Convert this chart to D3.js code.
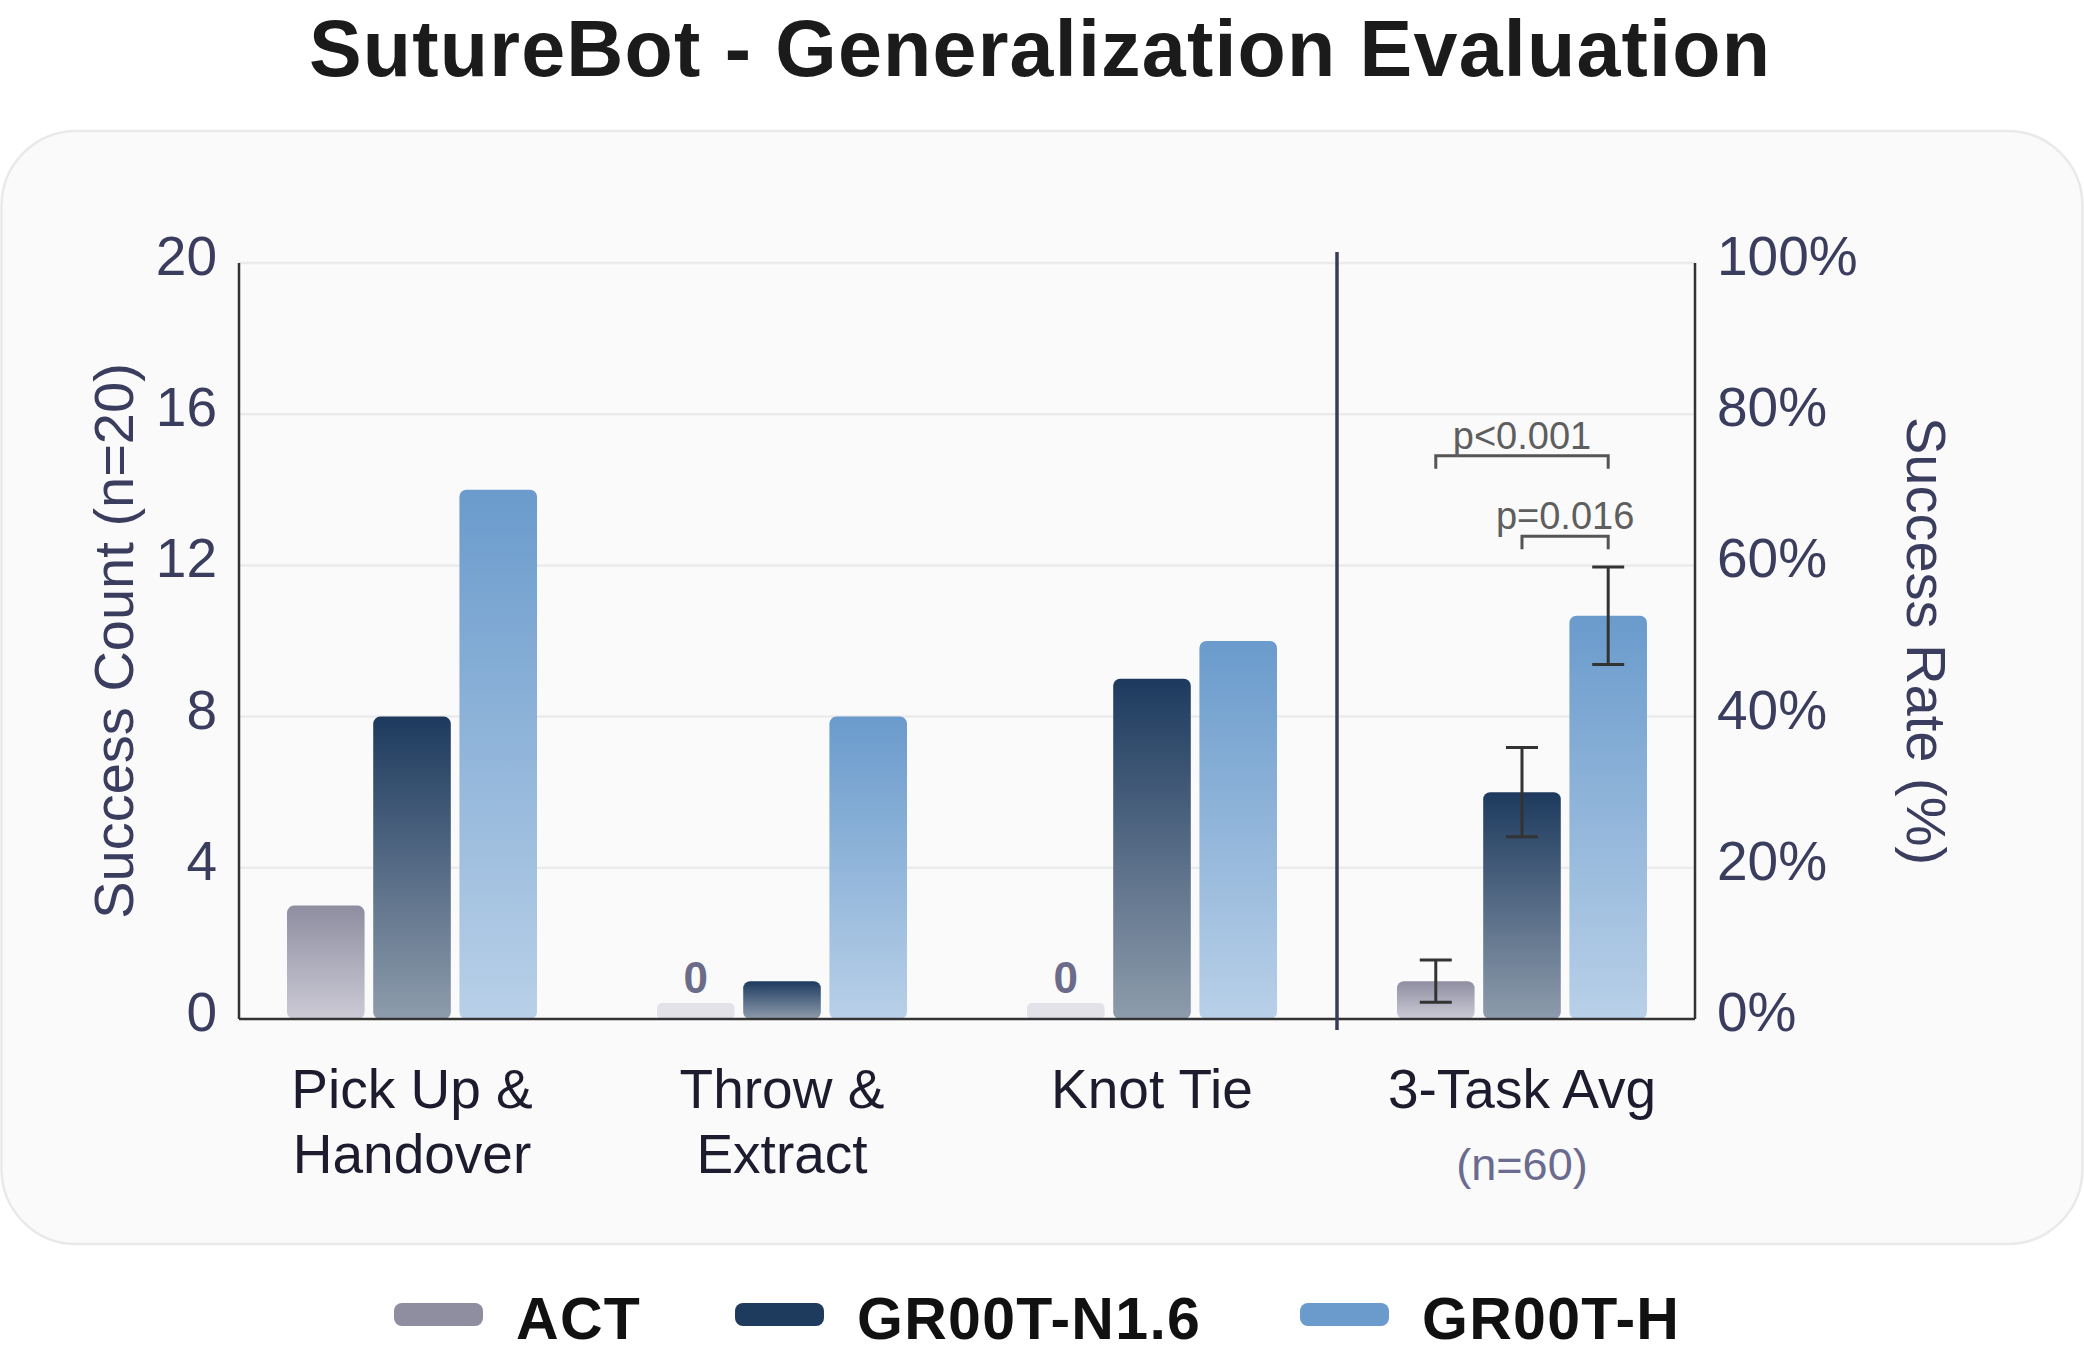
<!DOCTYPE html>
<html>
<head>
<meta charset="utf-8">
<script src="https://cdn.jsdelivr.net/npm/d3@7"></script>
<style>
  html, body { margin: 0; padding: 0; background: #ffffff; }
  svg { display: block; font-family: "Liberation Sans", Arial, Helvetica, sans-serif; }
</style>
</head>
<body>
<svg id="chart" width="2084" height="1352"></svg>
<script>
// ---------- data ----------
const categories = ["Pick Up & Handover", "Throw & Extract", "Knot Tie", "3-Task Avg"];
const categoryLines = [["Pick Up &", "Handover"], ["Throw &", "Extract"], ["Knot Tie"], ["3-Task Avg"]];
const categoryNotes = ["", "", "", "(n=60)"];
const series = ["ACT", "GR00T-N1.6", "GR00T-H"];
const actValues = [3, 0, 0, 1];
const n16Values = [8, 1, 9, 6];
const hValues = [14, 8, 10, 10.67];
const avgErrors = [0.56, 1.18, 1.29];          // ACT, N1.6, H on the 3-Task Avg group
const leftTicks = [0, 4, 8, 12, 16, 20];
const rightTickLabels = ["0%", "20%", "40%", "60%", "80%", "100%"];
const sigFrom = ["ACT", "GR00T-N1.6"];
const sigTo = ["GR00T-H", "GR00T-H"];
const sigLabels = ["p<0.001", "p=0.016"];
const sigLevels = [14.9, 12.77];
const zeroStub = 0.42;

const seriesValues = [actValues, n16Values, hValues];
const colorsTop = ["#8f8ea1", "#1d3a5e", "#6a9bcc"];
const colorsBottom = ["#cbcad5", "#8e9cac", "#b9d0e8"];
const legendColors = ["#8e8ea0", "#1e3a5c", "#6b9bcc"];

// ---------- layout ----------
const W = 2084, H = 1352;
const plotLeft = 239, plotRight = 1695, plotTop = 263, plotBottom = 1019;

const svg = d3.select("#chart");
const defs = svg.append("defs");

// panel
svg.append("rect")
  .attr("x", 1.5).attr("y", 131).attr("width", W - 3).attr("height", 1113)
  .attr("rx", 75).attr("ry", 75)
  .attr("fill", "#fafafa").attr("stroke", "#e9e9e9").attr("stroke-width", 2.5);

// title
svg.append("text")
  .attr("x", 1040).attr("y", 76)
  .attr("text-anchor", "middle")
  .attr("font-size", 79).attr("font-weight", "bold")
  .attr("letter-spacing", 1.2)
  .attr("fill", "#1b1b1b")
  .text("SutureBot - Generalization Evaluation");

// scales
const y = d3.scaleLinear().domain([0, 20]).range([plotBottom, plotTop]);
const yRight = d3.scaleLinear().domain([0, 100]).range([plotBottom, plotTop]);
const x0 = d3.scalePoint().domain(categories).range([plotLeft, plotRight]).padding(0.4676);
const x1 = d3.scaleBand().domain(series).range([-125, 125]).paddingInner(0.1);

// gridlines
svg.append("g")
  .selectAll("line").data(leftTicks.filter(d => d > 0)).join("line")
  .attr("x1", plotLeft).attr("x2", plotRight)
  .attr("y1", d => y(d)).attr("y2", d => y(d))
  .attr("stroke", "#ebebeb").attr("stroke-width", 2.5);

// gradients
series.forEach((s, i) => {
  const g = defs.append("linearGradient")
    .attr("id", "grad" + i).attr("x1", 0).attr("y1", 0).attr("x2", 0).attr("y2", 1);
  g.append("stop").attr("offset", "0%").attr("stop-color", colorsTop[i]);
  g.append("stop").attr("offset", "100%").attr("stop-color", colorsBottom[i]);
});

// bars
const barData = [];
categories.forEach((c, ci) => {
  series.forEach((s, si) => {
    barData.push({ cat: c, ci, s, si, v: seriesValues[si][ci] });
  });
});

const barG = svg.append("g");
barData.forEach(d => {
  const bx = x0(d.cat) + x1(d.s);
  if (d.v === 0) {
    barG.append("rect")
      .attr("x", bx).attr("width", x1.bandwidth())
      .attr("y", y(zeroStub)).attr("height", y(0) - y(zeroStub))
      .attr("rx", 5).attr("fill", "#e2e2e8");
    barG.append("text")
      .attr("x", bx + x1.bandwidth() / 2).attr("y", y(zeroStub) - 10)
      .attr("text-anchor", "middle").attr("font-size", 44).attr("font-weight", "bold")
      .attr("fill", "#6b6b8a").text("0");
  } else {
    barG.append("rect")
      .attr("x", bx).attr("width", x1.bandwidth())
      .attr("y", y(d.v)).attr("height", y(0) - y(d.v))
      .attr("rx", 7).attr("fill", "url(#grad" + d.si + ")");
  }
});

// error bars on 3-Task Avg
const avgCat = categories[3];
series.forEach((s, si) => {
  const v = seriesValues[si][3];
  const cx = x0(avgCat) + x1(s) + x1.bandwidth() / 2;
  const e = avgErrors[si];
  const g = svg.append("g").attr("stroke", "#333333").attr("stroke-width", 3);
  g.append("line").attr("x1", cx).attr("x2", cx).attr("y1", y(v - e)).attr("y2", y(v + e));
  g.append("line").attr("x1", cx - 16).attr("x2", cx + 16).attr("y1", y(v - e)).attr("y2", y(v - e));
  g.append("line").attr("x1", cx - 16).attr("x2", cx + 16).attr("y1", y(v + e)).attr("y2", y(v + e));
});

// significance brackets
sigLabels.forEach((lab, i) => {
  const xa = x0(avgCat) + x1(sigFrom[i]) + x1.bandwidth() / 2;
  const xb = x0(avgCat) + x1(sigTo[i]) + x1.bandwidth() / 2;
  const yy = y(sigLevels[i]);
  svg.append("path")
    .attr("d", `M${xa},${yy + 13}V${yy}H${xb}V${yy + 13}`)
    .attr("fill", "none").attr("stroke", "#555555").attr("stroke-width", 3);
  svg.append("text")
    .attr("x", (xa + xb) / 2).attr("y", yy - 7)
    .attr("text-anchor", "middle").attr("font-size", 38)
    .attr("fill", "#5e5e5e").text(lab);
});

// axes lines
svg.append("line").attr("x1", plotLeft).attr("x2", plotLeft).attr("y1", plotTop).attr("y2", plotBottom)
  .attr("stroke", "#333333").attr("stroke-width", 2.5);
svg.append("line").attr("x1", plotRight).attr("x2", plotRight).attr("y1", plotTop).attr("y2", plotBottom)
  .attr("stroke", "#333333").attr("stroke-width", 2.5);
svg.append("line").attr("x1", plotLeft).attr("x2", plotRight).attr("y1", plotBottom).attr("y2", plotBottom)
  .attr("stroke", "#333333").attr("stroke-width", 2.5);

// separator between tasks and average
const sepX = (x0(categories[2]) + x0(categories[3])) / 2;
svg.append("line").attr("x1", sepX).attr("x2", sepX).attr("y1", plotTop - 11).attr("y2", plotBottom + 11)
  .attr("stroke", "#3a3b5c").attr("stroke-width", 3.5);

// left tick labels
svg.append("g")
  .selectAll("text").data(leftTicks).join("text")
  .attr("x", plotLeft - 22).attr("y", d => y(d) + 12)
  .attr("text-anchor", "end").attr("font-size", 55).attr("fill", "#3b3d5e")
  .text(d => d);

// right tick labels
svg.append("g")
  .selectAll("text").data(rightTickLabels).join("text")
  .attr("x", plotRight + 22).attr("y", (d, i) => yRight(i * 20) + 12)
  .attr("text-anchor", "start").attr("font-size", 55).attr("fill", "#3b3d5e")
  .text(d => d);

// axis titles
svg.append("text")
  .attr("transform", `translate(133,${(plotTop + plotBottom) / 2}) rotate(-90)`)
  .attr("text-anchor", "middle").attr("font-size", 56).attr("fill", "#3b3d5e")
  .text("Success Count (n=20)");
svg.append("text")
  .attr("transform", `translate(1907,${(plotTop + plotBottom) / 2}) rotate(90)`)
  .attr("text-anchor", "middle").attr("font-size", 56).attr("fill", "#3b3d5e")
  .text("Success Rate (%)");

// category labels
categories.forEach((c, ci) => {
  const t = svg.append("text")
    .attr("text-anchor", "middle").attr("font-size", 55).attr("fill", "#1c1c2e");
  categoryLines[ci].forEach((ln, li) => {
    t.append("tspan").attr("x", x0(c)).attr("y", 1108 + li * 65).text(ln);
  });
  if (categoryNotes[ci]) {
    svg.append("text")
      .attr("x", x0(c)).attr("y", 1180)
      .attr("text-anchor", "middle").attr("font-size", 45).attr("fill", "#6b6b8f")
      .text(categoryNotes[ci]);
  }
});

// legend
const legendSwatchX = [394, 735, 1300];
series.forEach((s, i) => {
  svg.append("rect")
    .attr("x", legendSwatchX[i]).attr("y", 1303).attr("width", 89).attr("height", 23)
    .attr("rx", 8).attr("fill", legendColors[i]);
  svg.append("text")
    .attr("x", legendSwatchX[i] + 122).attr("y", 1339)
    .attr("font-size", 59).attr("font-weight", "bold").attr("fill", "#111111")
    .attr("letter-spacing", 1.3)
    .text(s);
});
</script>
</body>
</html>
